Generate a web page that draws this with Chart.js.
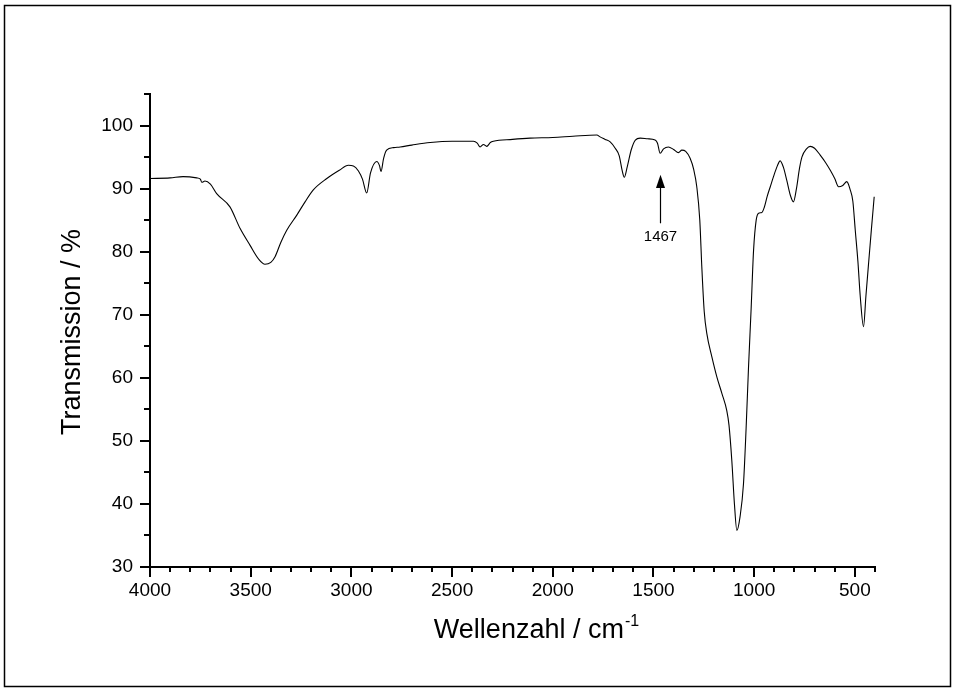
<!DOCTYPE html>
<html>
<head>
<meta charset="utf-8">
<script src="https://cdn.jsdelivr.net/npm/chart.js@4"></script>
<style>
  body { margin: 0; background: #fff; }
  canvas { display: block; }
</style>
</head>
<body>
<canvas id="irChart" width="956" height="691"></canvas>
<script>
// IR spectrum
const wavenumber = [4000, 3900, 3836, 3768, 3750, 3743, 3727, 3700, 3669, 3603, 3553, 3503, 3460, 3429, 3400, 3379, 3350, 3321, 3271, 3230, 3189, 3122, 3060, 3015, 2990, 2965, 2945, 2924, 2905, 2874, 2860, 2853, 2840, 2825, 2790, 2758, 2700, 2609, 2500, 2394, 2375, 2361, 2344, 2328, 2310, 2295, 2200, 2113, 2000, 1900, 1781, 1765, 1740, 1715, 1690, 1670, 1655, 1645, 1630, 1610, 1590, 1566, 1530, 1492, 1480, 1467, 1450, 1426, 1400, 1376, 1359, 1340, 1318, 1300, 1285, 1270, 1260, 1248, 1235, 1210, 1185, 1160, 1136, 1125, 1111, 1098, 1086, 1070, 1053, 1040, 1028, 1015, 1003, 990, 978, 962, 950, 935, 920, 904, 885, 871, 855, 838, 820, 805, 790, 775, 763, 740, 722, 700, 672, 645, 622, 600, 581, 560, 540, 523, 510, 498, 485, 473, 457, 445, 432, 418, 404];
const transmission = [91.6, 91.7, 91.9, 91.7, 91.5, 91.0, 91.2, 90.7, 89.2, 87.1, 83.7, 81.0, 78.8, 78.0, 78.3, 79.2, 81.5, 83.4, 85.8, 87.9, 89.8, 91.6, 92.9, 93.7, 93.6, 92.8, 91.5, 89.3, 92.5, 94.3, 93.6, 92.7, 94.8, 96.1, 96.5, 96.6, 96.9, 97.3, 97.5, 97.5, 97.2, 96.6, 97.0, 96.7, 97.3, 97.5, 97.8, 98.0, 98.1, 98.3, 98.5, 98.2, 97.8, 97.4, 96.4, 95.2, 92.8, 91.8, 93.5, 96.2, 97.7, 98.0, 97.9, 97.7, 97.2, 95.6, 96.3, 96.6, 96.2, 95.7, 96.1, 95.9, 94.8, 93.0, 90.3, 85.0, 77.6, 70.5, 67.0, 63.3, 60.1, 57.5, 54.8, 52.5, 46.9, 40.0, 35.8, 38.0, 43.2, 52.0, 61.7, 71.0, 80.2, 85.0, 86.1, 86.2, 87.0, 88.8, 90.3, 91.9, 93.6, 94.4, 93.4, 91.3, 88.9, 87.9, 90.0, 93.2, 95.0, 96.3, 96.7, 96.4, 95.3, 94.1, 92.9, 91.6, 90.3, 90.5, 91.1, 89.8, 88.0, 83.4, 78.5, 72.8, 68.1, 73.0, 78.1, 83.5, 88.7];

const xMin = 400, xMax = 4000;
const yMin = 30, yMax = 105;
const xTickLabels = [4000, 3500, 3000, 2500, 2000, 1500, 1000, 500];
const yTickLabels = [30, 40, 50, 60, 70, 80, 90, 100];
const markedPeak = 1467;

const fontFamily = "'Liberation Sans', Arial, sans-serif";

const points = wavenumber.map((w, i) => ({ x: w, y: transmission[i] }));

// frame, tick marks, axis titles and the 1467 arrow
const decorations = {
    id: 'decorations',
    afterDraw(chart) {
        const ctx = chart.ctx;
        const xs = chart.scales.x;
        const ys = chart.scales.y;
        const area = chart.chartArea;
        ctx.save();
        ctx.strokeStyle = '#000';
        ctx.fillStyle = '#000';

        ctx.lineWidth = 1.5;
        ctx.strokeRect(4.5, 5.5, 946, 681);

        ctx.lineWidth = 2;
        ctx.beginPath();
        for (let v = xMin; v <= xMax; v += 100) {
            const px = Math.round(xs.getPixelForValue(v));
            const len = v % 500 === 0 ? 10 : 5;
            ctx.moveTo(px, area.bottom);
            ctx.lineTo(px, area.bottom + len);
        }
        for (let v = yMin; v <= yMax; v += 5) {
            const py = Math.round(ys.getPixelForValue(v));
            const len = v % 10 === 0 ? 10 : 6;
            ctx.moveTo(area.left, py);
            ctx.lineTo(area.left - len, py);
        }
        ctx.stroke();

        // y title
        ctx.save();
        ctx.translate(80, 332);
        ctx.rotate(-Math.PI / 2);
        ctx.font = '27px ' + fontFamily;
        ctx.textAlign = 'center';
        ctx.textBaseline = 'alphabetic';
        ctx.fillText('Transmission / %', 0, 0);
        ctx.restore();

        // x title with superscript
        const mainText = 'Wellenzahl / cm';
        const supText = '-1';
        ctx.font = '27px ' + fontFamily;
        const w1 = ctx.measureText(mainText).width;
        ctx.font = '16px ' + fontFamily;
        const w2 = ctx.measureText(supText).width;
        const startX = 536 - (w1 + w2) / 2;
        ctx.textAlign = 'left';
        ctx.textBaseline = 'alphabetic';
        ctx.font = '27px ' + fontFamily;
        ctx.fillText(mainText, startX, 638);
        ctx.font = '16px ' + fontFamily;
        ctx.fillText(supText, startX + w1 + 1, 626);

        // arrow to the 1467 band
        const ax = Math.round(xs.getPixelForValue(markedPeak)) + 0.5;
        const tip = ys.getPixelForValue(92.2);
        const base = ys.getPixelForValue(90.1);
        const tail = ys.getPixelForValue(84.5);
        ctx.lineWidth = 1.2;
        ctx.beginPath();
        ctx.moveTo(ax, base);
        ctx.lineTo(ax, tail);
        ctx.stroke();
        ctx.beginPath();
        ctx.moveTo(ax, tip);
        ctx.lineTo(ax - 4.5, base);
        ctx.lineTo(ax + 4.5, base);
        ctx.closePath();
        ctx.fill();
        ctx.font = '15px ' + fontFamily;
        ctx.textAlign = 'center';
        ctx.textBaseline = 'middle';
        ctx.fillText(String(markedPeak), ax, ys.getPixelForValue(82.3));

        ctx.restore();
    }
};

new Chart(document.getElementById('irChart').getContext('2d'), {
    type: 'line',
    data: {
        datasets: [{
            data: points,
            borderColor: '#000',
            borderWidth: 1.1,
            pointRadius: 0,
            fill: false,
            cubicInterpolationMode: 'monotone'
        }]
    },
    options: {
        responsive: false,
        animation: false,
        layout: { padding: { top: 94, right: 81, left: 0, bottom: 0 } },
        plugins: {
            legend: { display: false },
            tooltip: { enabled: false }
        },
        scales: {
            x: {
                type: 'linear',
                reverse: true,
                min: xMin,
                max: xMax,
                grid: { display: false, drawTicks: false },
                border: { display: true, color: '#000', width: 2 },
                afterBuildTicks: (scale) => {
                    scale.ticks = xTickLabels.map((v) => ({ value: v }));
                },
                ticks: {
                    autoSkip: false,
                    maxRotation: 0,
                    padding: 12,
                    color: '#000',
                    font: { size: 19, family: fontFamily },
                    callback: (v) => String(v)
                },
                afterFit: (scale) => { scale.height = 124; }
            },
            y: {
                type: 'linear',
                min: yMin,
                max: yMax,
                grid: { display: false, drawTicks: false },
                border: { display: true, color: '#000', width: 2 },
                afterBuildTicks: (scale) => {
                    scale.ticks = yTickLabels.map((v) => ({ value: v }));
                },
                ticks: {
                    autoSkip: false,
                    padding: 17,
                    color: '#000',
                    font: { size: 19, family: fontFamily },
                    callback: (v) => String(v)
                },
                afterFit: (scale) => { scale.width = 150; }
            }
        }
    },
    plugins: [decorations]
});
</script>
</body>
</html>
